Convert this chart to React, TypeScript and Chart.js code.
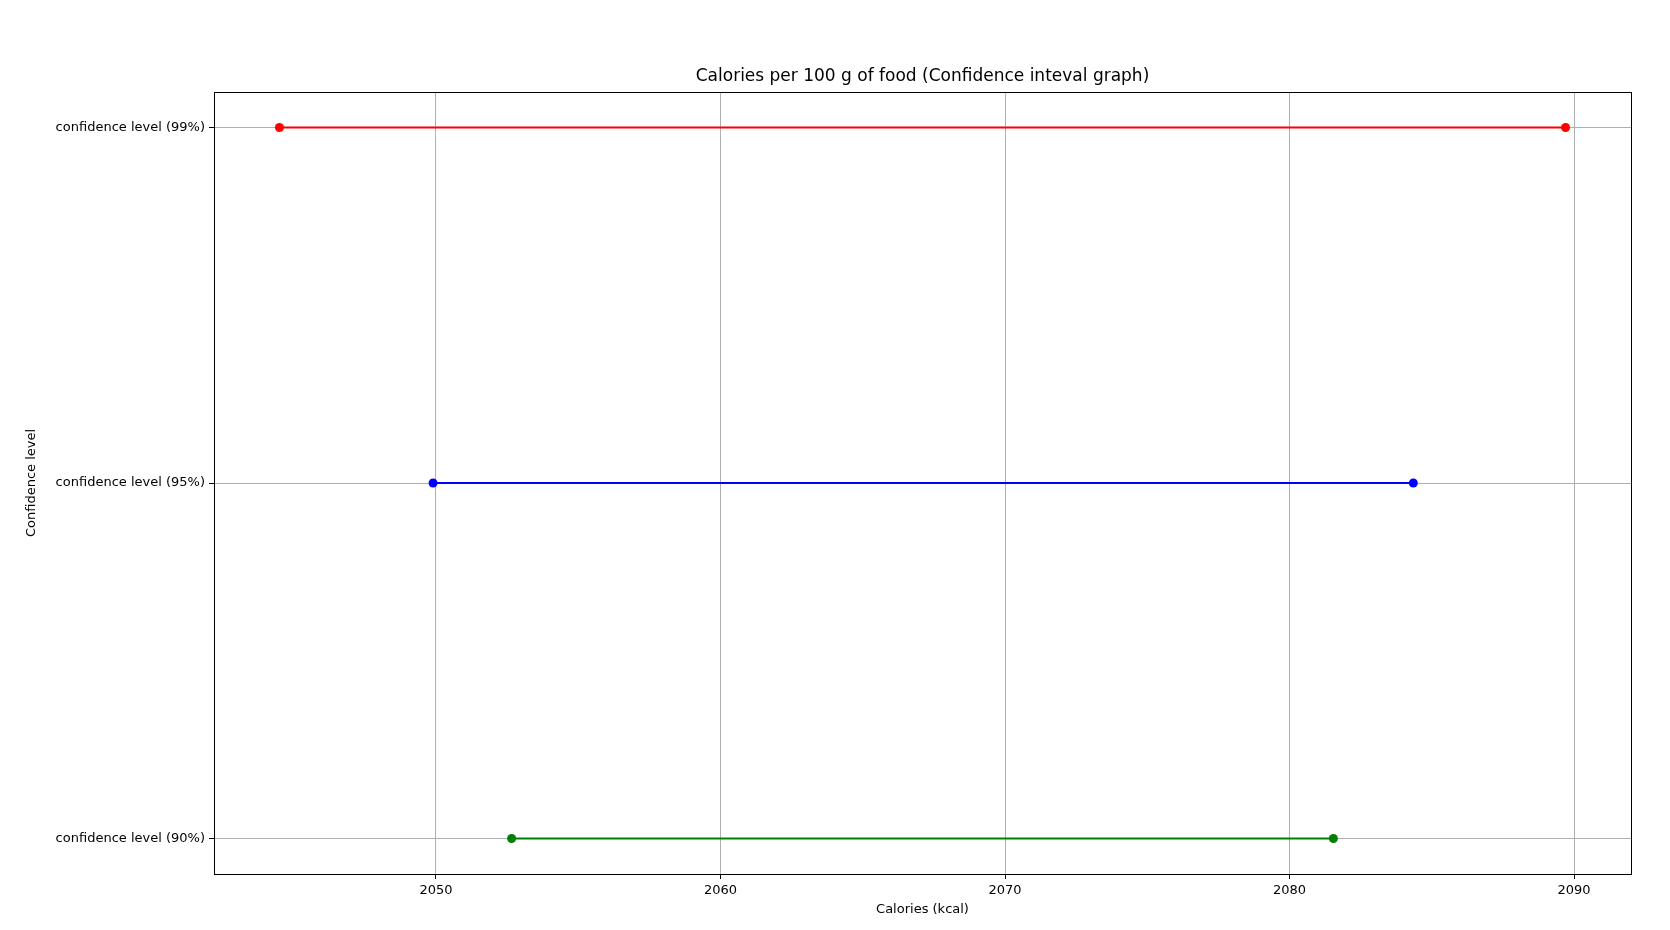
import React, { useRef, useEffect } from 'react';
import { Chart, registerables } from 'chart.js';
Chart.register(...registerables);

const levels = ['confidence level (90%)', 'confidence level (95%)', 'confidence level (99%)'];
const lowerBounds = [2052.66, 2049.9, 2044.5];
const upperBounds = [2081.54, 2084.35, 2089.7];
const colors = ['green', 'blue', 'red'];
const xTicks = [2050, 2060, 2070, 2080, 2090];

const W = 1670;
const H = 930;
const LEFT = 214;
const RIGHT = 1631;
const TOP = 92;
const BOTTOM = 874;
const FONT = '"DejaVu Sans", sans-serif';

const textPlugin = {
  id: 'texts',
  afterDraw(chart: Chart) {
    const { ctx, chartArea } = chart;
    ctx.save();
    // frame (top/right spines)
    ctx.strokeStyle = '#000';
    ctx.lineWidth = 1;
    ctx.strokeRect(chartArea.left + 0.5, chartArea.top + 0.5, chartArea.right - chartArea.left, chartArea.bottom - chartArea.top);
    ctx.fillStyle = '#000';
    ctx.textAlign = 'center';
    ctx.textBaseline = 'middle';
    ctx.font = `17px ${FONT}`;
    ctx.fillText('Calories per 100 g of food (Confidence inteval graph)', (chartArea.left + chartArea.right) / 2, 77);
    ctx.font = `13px ${FONT}`;
    ctx.fillText('Calories (kcal)', (chartArea.left + chartArea.right) / 2, 910);
    ctx.translate(32, (chartArea.top + chartArea.bottom) / 2);
    ctx.rotate(-Math.PI / 2);
    ctx.fillText('Confidence level', 0, 0);
    ctx.restore();
  },
};

const App: React.FC = () => {
  const canvasRef = useRef<HTMLCanvasElement>(null);
  const chartRef = useRef<Chart | null>(null);

  useEffect(() => {
    if (!canvasRef.current) return;
    chartRef.current?.destroy();
    chartRef.current = new Chart(canvasRef.current, {
      type: 'scatter',
      data: {
        datasets: levels.map((lvl, i) => ({
          label: lvl,
          data: [
            { x: lowerBounds[i], y: i },
            { x: upperBounds[i], y: i },
          ],
          showLine: true,
          borderColor: colors[i],
          backgroundColor: colors[i],
          borderWidth: 2,
          pointRadius: 4.5,
          pointBorderWidth: 0,
        })),
      },
      options: {
        animation: false,
        responsive: false,
        layout: { padding: { top: TOP, right: W - RIGHT, left: 0, bottom: 0 } },
        plugins: { legend: { display: false }, tooltip: { enabled: false } },
        scales: {
          x: {
            type: 'linear',
            min: 2042.2,
            max: 2092.0,
            afterFit: (s: any) => { s.height = H - BOTTOM; },
            afterBuildTicks: (s: any) => { s.ticks = xTicks.map((v) => ({ value: v })); },
            ticks: { color: '#000', font: { family: FONT, size: 13 }, padding: 4, callback: (v: any) => String(v) },
            grid: { color: '#b0b0b0', tickColor: '#000', tickLength: 5 },
            border: { color: '#000', width: 1 },
          },
          y: {
            type: 'linear',
            min: -0.1,
            max: 2.1,
            afterFit: (s: any) => { s.width = LEFT; },
            afterBuildTicks: (s: any) => { s.ticks = levels.map((_, i) => ({ value: i })); },
            ticks: {
              color: '#000',
              font: { family: FONT, size: 13 },
              padding: 4,
              callback: (v: any) => levels[v as number] ?? '',
            },
            grid: { color: '#b0b0b0', tickColor: '#000', tickLength: 5 },
            border: { color: '#000', width: 1 },
          },
        },
      },
      plugins: [textPlugin],
    });
    return () => {
      chartRef.current?.destroy();
      chartRef.current = null;
    };
  }, []);

  return (
    <div style={{ position: 'absolute', left: 0, top: 0, width: W, height: H, background: '#fff' }}>
      <canvas ref={canvasRef} width={W} height={H} style={{ width: W, height: H }}></canvas>
    </div>
  );
};

export default App;
